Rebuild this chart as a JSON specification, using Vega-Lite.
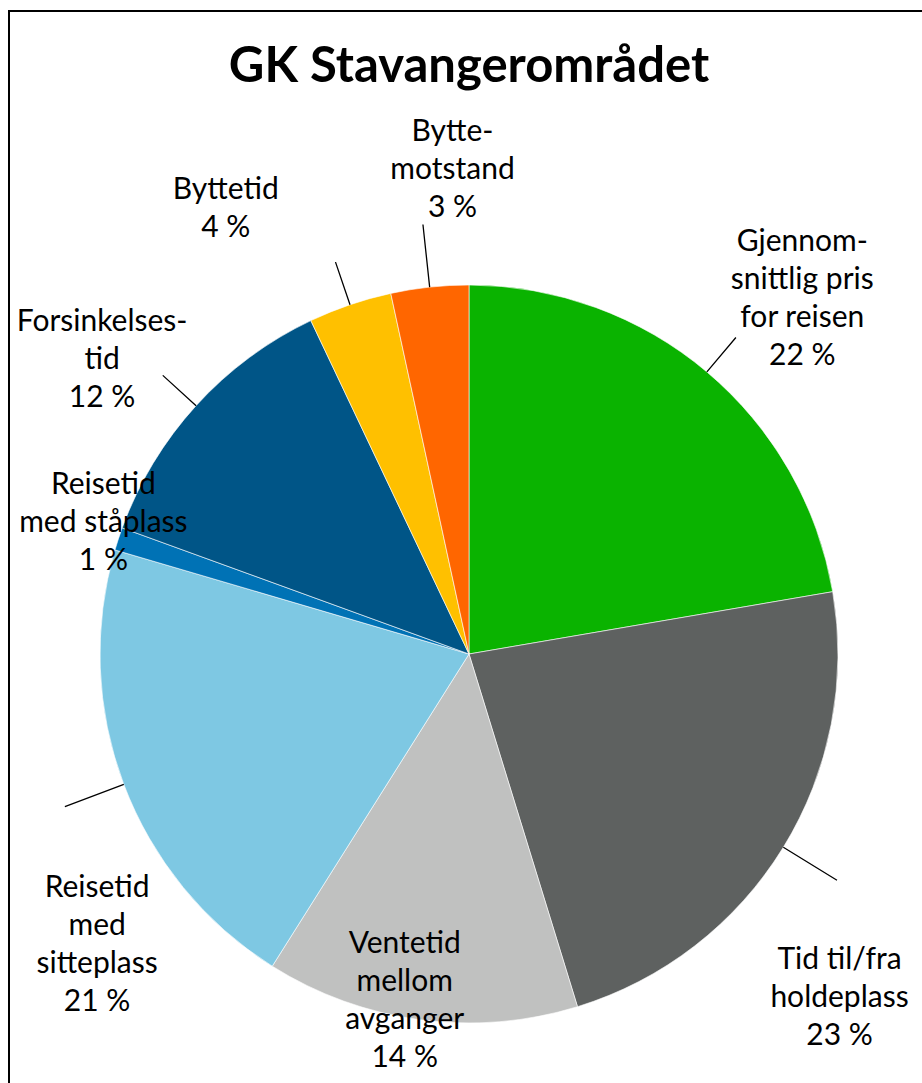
{
  "$schema": "https://vega.github.io/schema/vega-lite/v6.json",
  "width": 920,
  "height": 1286,
  "autosize": "none",
  "padding": {"left": 9, "top": 11, "right": -7, "bottom": -214},
  "background": "white",
  "view": {"stroke": "black", "strokeWidth": 2},
  "config": {"view": {"stroke": "black", "strokeWidth": 2}, "font": "Lato"},
  "title": {"text": "GK Stavangerområdet", "font": "Lato", "fontSize": 49, "fontWeight": "bold", "color": "black", "anchor": "middle", "frame": "group", "baseline": "alphabetic", "offset": -120},
  "data": {"values": [
    {"nr": 1, "kategori": "Gjennomsnittlig pris for reisen", "andel": 22.3, "tekst": "Gjennom-\nsnittlig pris\nfor reisen\n22 %"},
    {"nr": 2, "kategori": "Tid til/fra holdeplass", "andel": 22.95, "tekst": "Tid til/fra\nholdeplass\n23 %"},
    {"nr": 3, "kategori": "Ventetid mellom avganger", "andel": 13.7, "tekst": "Ventetid\nmellom\navganger\n14 %"},
    {"nr": 4, "kategori": "Reisetid med sitteplass", "andel": 20.6, "tekst": "Reisetid\nmed\nsitteplass\n21 %"},
    {"nr": 5, "kategori": "Reisetid med ståplass", "andel": 1.0, "tekst": "Reisetid\nmed ståplass\n1 %"},
    {"nr": 6, "kategori": "Forsinkelsestid", "andel": 12.4, "tekst": "Forsinkelses-\ntid\n12 %"},
    {"nr": 7, "kategori": "Byttetid", "andel": 3.65, "tekst": "Byttetid\n4 %"},
    {"nr": 8, "kategori": "Byttemotstand", "andel": 3.4, "tekst": "Bytte-\nmotstand\n3 %"}
  ]},
  "encoding": {
    "theta": {"field": "andel", "type": "quantitative", "stack": true},
    "order": {"field": "nr", "type": "quantitative"},
    "detail": {"field": "kategori", "type": "nominal"}
  },
  "layer": [
    {
      "mark": {"type": "arc", "outerRadius": 369, "stroke": "white", "strokeWidth": 0.6},
      "encoding": {
        "color": {"field": "kategori", "type": "nominal", "legend": null,
          "scale": {
            "domain": ["Gjennomsnittlig pris for reisen", "Tid til/fra holdeplass", "Ventetid mellom avganger", "Reisetid med sitteplass", "Reisetid med ståplass", "Forsinkelsestid", "Byttetid", "Byttemotstand"],
            "range": ["#0AB300", "#5E6160", "#C0C1C0", "#7EC8E3", "#0072B5", "#005587", "#FFC000", "#FF6600"]
          }
        }
      }
    },
    {
      "mark": {"type": "arc", "innerRadius": 369, "outerRadius": 432, "padAngle": 3, "fill": "transparent", "stroke": "black", "strokeWidth": 1.3},
      "encoding": {"strokeOpacity": {"condition": {"test": "datum.nr === 2 || datum.nr === 4 || datum.nr === 8", "value": 1}, "value": 0}}
    },
    {
      "mark": {"type": "arc", "innerRadius": 369, "outerRadius": 414, "padAngle": 3, "fill": "transparent", "stroke": "black", "strokeWidth": 1.3},
      "encoding": {"strokeOpacity": {"condition": {"test": "datum.nr === 1 || datum.nr === 6 || datum.nr === 7", "value": 1}, "value": 0}}
    },
    {
      "mark": {"type": "text", "radius": 486, "dx": 20, "dy": -40, "fontSize": 30, "font": "Lato", "align": "center", "baseline": "middle", "lineBreak": "\n", "lineHeight": 38, "color": "black"},
      "encoding": {"text": {"condition": {"test": "datum.nr === 1", "field": "tekst"}, "value": ""}}
    },
    {
      "mark": {"type": "text", "radius": 496, "dx": -52, "dy": 46, "fontSize": 30, "font": "Lato", "align": "center", "baseline": "middle", "lineBreak": "\n", "lineHeight": 38, "color": "black"},
      "encoding": {"text": {"condition": {"test": "datum.nr === 2", "field": "tekst"}, "value": ""}}
    },
    {
      "mark": {"type": "text", "radius": 352, "dx": -18, "dy": -59, "fontSize": 30, "font": "Lato", "align": "center", "baseline": "middle", "lineBreak": "\n", "lineHeight": 38, "color": "black"},
      "encoding": {"text": {"condition": {"test": "datum.nr === 3", "field": "tekst"}, "value": ""}}
    },
    {
      "mark": {"type": "text", "radius": 451, "dx": 50, "dy": 75, "fontSize": 30, "font": "Lato", "align": "center", "baseline": "middle", "lineBreak": "\n", "lineHeight": 38, "color": "black"},
      "encoding": {"text": {"condition": {"test": "datum.nr === 4", "field": "tekst"}, "value": ""}}
    },
    {
      "mark": {"type": "text", "radius": 388, "dx": 3, "dy": -48, "fontSize": 30, "font": "Lato", "align": "center", "baseline": "middle", "lineBreak": "\n", "lineHeight": 38, "color": "black"},
      "encoding": {"text": {"condition": {"test": "datum.nr === 5", "field": "tekst"}, "value": ""}}
    },
    {
      "mark": {"type": "text", "radius": 469, "dx": -20, "dy": -16, "fontSize": 30, "font": "Lato", "align": "center", "baseline": "middle", "lineBreak": "\n", "lineHeight": 38, "color": "black"},
      "encoding": {"text": {"condition": {"test": "datum.nr === 6", "field": "tekst"}, "value": ""}}
    },
    {
      "mark": {"type": "text", "radius": 500, "dx": -82, "dy": 9, "fontSize": 30, "font": "Lato", "align": "center", "baseline": "middle", "lineBreak": "\n", "lineHeight": 38, "color": "black"},
      "encoding": {"text": {"condition": {"test": "datum.nr === 7", "field": "tekst"}, "value": ""}}
    },
    {
      "mark": {"type": "text", "radius": 483, "dx": 35, "dy": -42, "fontSize": 30, "font": "Lato", "align": "center", "baseline": "middle", "lineBreak": "\n", "lineHeight": 38, "color": "black"},
      "encoding": {"text": {"condition": {"test": "datum.nr === 8", "field": "tekst"}, "value": ""}}
    }
  ]
}
